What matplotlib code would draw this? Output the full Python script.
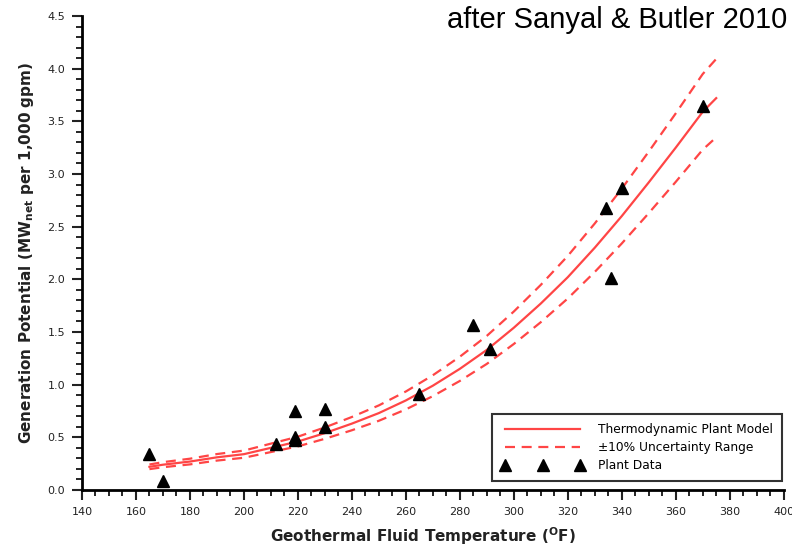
import matplotlib.pyplot as plt
from matplotlib.ticker import MultipleLocator

# Thermodynamic plant model
model_temp = [165, 170, 180, 190, 200, 210, 220, 230, 240, 250, 260, 270,
              280, 290, 300, 310, 320, 330, 340, 350, 360, 370, 375]
model_power = [0.22, 0.24, 0.27, 0.31, 0.34, 0.40, 0.46, 0.54, 0.63, 0.73, 0.85, 0.99,
               1.15, 1.33, 1.54, 1.77, 2.02, 2.30, 2.60, 2.92, 3.25, 3.59, 3.72]
uncertainty = 0.10

# Plant data
plant_temp = [165, 170, 212, 219, 219, 219, 230, 230, 265, 285, 291, 334, 336, 340, 370]
plant_power = [0.34, 0.09, 0.44, 0.75, 0.47, 0.50, 0.77, 0.60, 0.91, 1.57, 1.34, 2.68, 2.01, 2.87, 3.65]

red = '#ff4545'

fig = plt.figure(figsize=(7.92, 5.49), dpi=100)
ax = fig.add_axes([0.1035, 0.1075, 0.886, 0.8634])

upper = [p * (1 + uncertainty) for p in model_power]
lower = [p * (1 - uncertainty) for p in model_power]

ax.plot(model_temp, model_power, color=red, lw=1.6, label='Thermodynamic Plant Model')
ax.plot(model_temp, upper, color=red, lw=1.6, ls=(0, (4.5, 3)), label='\u00b110% Uncertainty Range')
ax.plot(model_temp, lower, color=red, lw=1.6, ls=(0, (4.5, 3)))
ax.plot(plant_temp, plant_power, ls='none', marker='^', color='black', ms=9,
        label='Plant Data')

ax.set_xlim(140, 400)
ax.set_ylim(0, 4.5)
ax.xaxis.set_major_locator(MultipleLocator(20))
ax.xaxis.set_minor_locator(MultipleLocator(5))
ax.yaxis.set_major_locator(MultipleLocator(0.5))
ax.yaxis.set_minor_locator(MultipleLocator(0.1))
ax.yaxis.set_major_formatter(plt.FormatStrFormatter('%.1f'))

for s in ['top', 'right']:
    ax.spines[s].set_visible(False)
for s in ['left', 'bottom']:
    ax.spines[s].set_linewidth(2)
ax.tick_params(which='major', length=7, width=1.5, labelsize=8, pad=5, colors='#222222')
ax.tick_params(which='minor', length=4, width=1.2)

ax.set_xlabel('Geothermal Fluid Temperature ($\\mathregular{^{O}}$F)', fontsize=11,
              fontweight='bold', color='#222222')
ax.xaxis.set_label_coords(0.486, -0.075)
ax.set_ylabel('Generation Potential (MW$\\mathregular{_{net}}$ per 1,000 gpm)', fontsize=11,
              fontweight='bold', color='#222222')
ax.yaxis.set_label_coords(-0.066, 0.5)

leg = ax.legend(loc='lower right', bbox_to_anchor=(0.997, 0.019), borderaxespad=0,
                numpoints=3, handlelength=6.8, handletextpad=1.1, fontsize=8.8,
                labelspacing=0.4, fancybox=False, frameon=True, edgecolor='black',
                borderpad=0.75)
leg.get_frame().set_linewidth(1.5)

fig.text(0.565, 0.949, 'after Sanyal & Butler 2010', fontsize=21,
         family='Liberation Sans', va='baseline', ha='left')

fig.savefig('out.png', dpi=100)
